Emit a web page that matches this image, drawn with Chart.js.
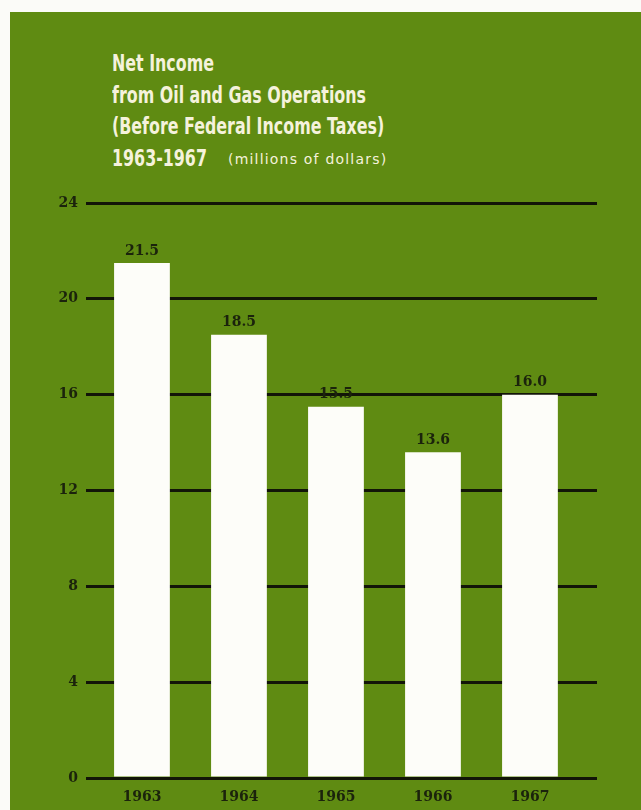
<!DOCTYPE html>
<html>
<head>
<meta charset="utf-8">
<script src="https://cdn.jsdelivr.net/npm/chart.js@4"></script>
<style>
  html, body { margin: 0; padding: 0; background: #fbfbf8; }
  #panel {
    position: absolute; left: 10px; top: 12px; width: 631px; height: 798px;
    background: #5f8b12;
  }
  #title {
    position: absolute; left: 112px; top: 48px;
    color: #f5f2dc;
    font-family: "DejaVu Sans", sans-serif;
    font-weight: bold;
    font-size: 23px;
    line-height: 31.5px;
    white-space: nowrap;
    transform: scaleX(0.69);
    transform-origin: 0 0;
  }
  #unit {
    position: absolute; left: 228px; top: 151px;
    color: #f5f2dc;
    font-family: "DejaVu Sans", sans-serif;
    font-size: 14px;
    letter-spacing: 1.2px;
    white-space: nowrap;
  }
  #chart { position: absolute; left: 0; top: 0; }
</style>
</head>
<body>
<div id="panel"></div>
<div id="title">
  Net Income<br>
  from Oil and Gas Operations<br>
  (Before Federal Income Taxes)<br>
  1963-1967
</div>
<div id="unit">(millions of dollars)</div>
<canvas id="chart" width="641" height="810"></canvas>
<script>
// net income, millions of dollars
const years = ["1963", "1964", "1965", "1966", "1967"];
const income = [21.5, 18.5, 15.5, 13.6, 16.0];
const incomeLabels = ["21.5", "18.5", "15.5", "13.6", "16.0"];
const yTicks = [0, 4, 8, 12, 16, 20, 24];

const ink = "#1b230c";
const numFont = { family: "'DejaVu Serif', serif", size: 14, weight: "bold" };

// value printed just above each bar
const barValues = {
  id: "barValues",
  afterDatasetsDraw(chart) {
    const { ctx } = chart;
    const meta = chart.getDatasetMeta(0);
    ctx.save();
    ctx.fillStyle = ink;
    ctx.font = "bold 14px 'DejaVu Serif', serif";
    ctx.textAlign = "center";
    ctx.textBaseline = "bottom";
    meta.data.forEach((bar, i) => {
      ctx.fillText(incomeLabels[i], bar.x, bar.y - 5);
    });
    ctx.restore();
  },
};

new Chart(document.getElementById("chart"), {
  type: "bar",
  data: {
    datasets: [
      {
        data: income.map((v, i) => ({ x: i, y: v })),
        backgroundColor: "#fdfdf9",
        borderWidth: 0,
        categoryPercentage: 1,
        barPercentage: 0.575,
      },
    ],
  },
  options: {
    responsive: false,
    animation: false,
    layout: { padding: { left: 46, right: 44, top: 203, bottom: 0 } },
    plugins: {
      legend: { display: false },
      tooltip: { enabled: false },
    },
    scales: {
      x: {
        type: "linear",
        offset: false,
        min: -0.577,
        max: 4.691,
        grid: { display: false, drawTicks: false },
        border: { display: false },
        afterFit: (s) => { s.height = 32; },
        ticks: {
          stepSize: 1,
          includeBounds: false,
          padding: 11,
          color: ink,
          font: numFont,
          callback: (v) => years[v] ?? "",
        },
      },
      y: {
        min: 0,
        max: 24,
        grid: { color: "#121508", lineWidth: 3, drawTicks: false },
        border: { display: false },
        afterFit: (s) => { s.width = 40; },
        afterBuildTicks: (s) => { s.ticks = yTicks.map((v) => ({ value: v })); },
        ticks: {
          padding: 8,
          color: ink,
          font: numFont,
        },
      },
    },
  },
  plugins: [barValues],
});
</script>
</body>
</html>
